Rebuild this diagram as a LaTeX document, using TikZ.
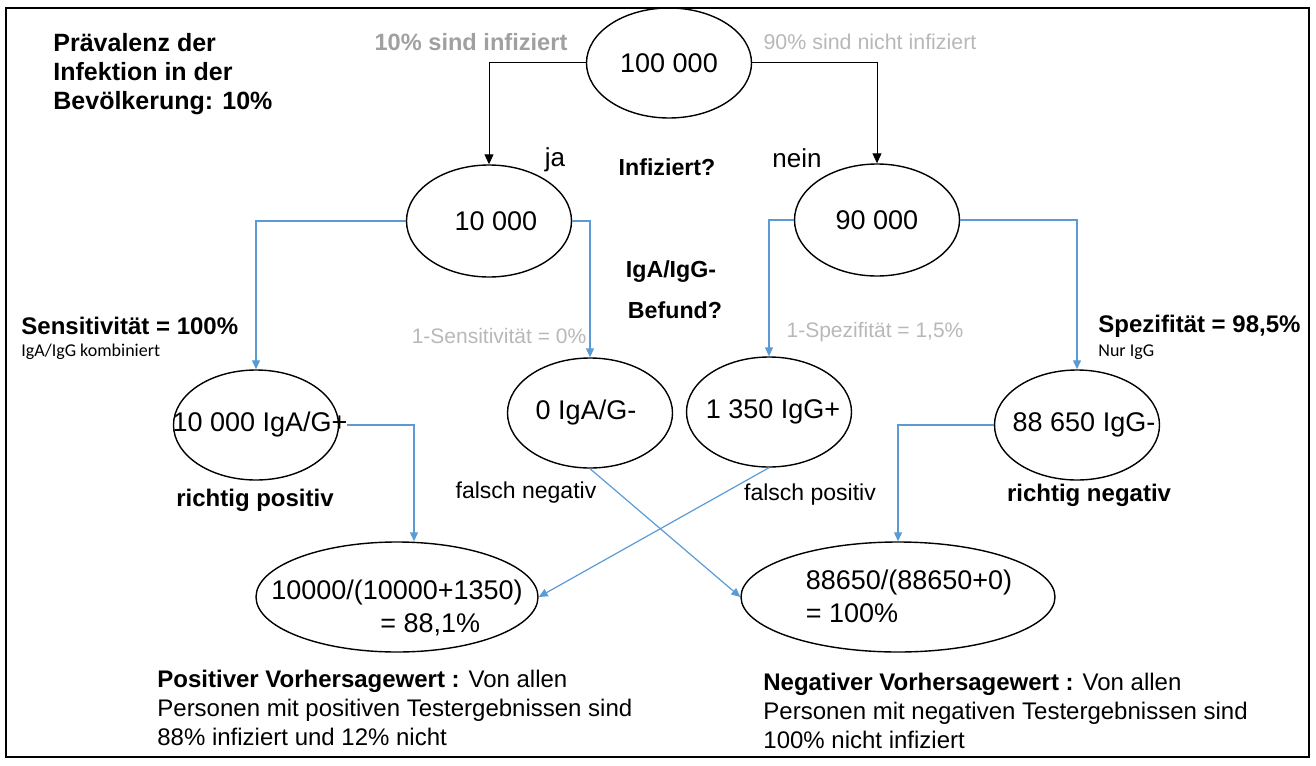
\documentclass[tikz,border=0pt]{standalone}
\usepackage{fontspec}
\setmainfont{Liberation Sans}
\newfontfamily\kleinfont{Carlito}
\usepackage{xcolor}
\usepackage{tikz}
\usetikzlibrary{shapes,arrows.meta,positioning,calc}

\definecolor{blaulinie}{HTML}{5B9BD5}
\definecolor{grau}{HTML}{A0A0A0}
\definecolor{hellgrau}{HTML}{B8B8B8}

\tikzset{
  zahl/.style={draw, ellipse, line width=0.7pt, inner sep=0pt,
    minimum width=82.5pt, minimum height=55pt, font=\fontsize{13.5}{16.5}\selectfont},
  pfeil/.style={line width=0.5pt, -{Triangle[length=5pt,width=4.5pt]}},
  blaupfeil/.style={draw=blaulinie, line width=0.6pt, -{Triangle[length=4.5pt,width=4pt]}},
  fett/.style={font=\bfseries\fontsize{12}{14.5}\selectfont, inner sep=0pt},
  frage/.style={font=\bfseries\fontsize{11.6}{14}\selectfont, inner sep=0pt},
  normal/.style={font=\fontsize{12}{14.5}\selectfont, inner sep=0pt},
  grauklein/.style={text=hellgrau, font=\fontsize{10.5}{12}\selectfont, inner sep=0pt},
  notiz/.style={font=\kleinfont\fontsize{9}{11}\selectfont, inner sep=0pt}
}

\begin{document}
\begin{tikzpicture}[x=0.5pt, y=-0.5pt]
    \useasboundingbox (0,0) rectangle (1316,765);
    % Rahmen
    \draw[line width=1pt] (6,8) rectangle (1309,757);

    % Ellipsen
    \node[zahl] (gesamt) at (669,63) {\makebox[0pt]{100 000}};
    \node[zahl, minimum height=56pt] (ja) at (489,221) {\makebox[0pt]{\hspace*{7pt}10 000}};
    \node[zahl, minimum height=56pt] (nein) at (877,220) {\makebox[0pt]{90 000}};
    \node[zahl] (rp) at (256,425) {\makebox[0pt]{\hspace*{4pt}10 000 IgA/G+}};
    \node[zahl] (fn) at (590,413) {\makebox[0pt]{0 IgA/G-\hspace*{4pt}}};
    \node[zahl] (fp) at (769,412) {\makebox[0pt]{\hspace*{4pt}1 350 IgG+}};
    \node[zahl] (rn) at (1077,425) {\makebox[0pt]{\hspace*{7pt}88 650 IgG-}};
    \node[zahl, minimum width=141pt] (ppv) at (397,597)
        {\makebox[0pt]{\raisebox{-9.9pt}[0pt][0pt]{\begin{tabular}{@{}l@{}}10000/(10000+1350)\\\hspace*{54.5pt}= 88,1\%\end{tabular}}}};
    \node[zahl, minimum width=157pt] (npv) at (898,597)
        {\makebox[0pt]{\hspace*{11pt}\raisebox{-4.9pt}[0pt][0pt]{\begin{tabular}{@{}l@{}}88650/(88650+0)\\= 100\%\end{tabular}}}};

    % Pfeile
    \draw[pfeil] (gesamt.west) -| (ja.north);
    \draw[pfeil] (gesamt.east) -| (nein.north);
    \draw[blaupfeil] (ja.west) -| (rp.north);
    \draw[blaupfeil] (ja.east) -| (fn.north);
    \draw[blaupfeil] (nein.west) -| (fp.north);
    \draw[blaupfeil] (nein.east) -| (rn.north);
    \draw[blaupfeil] ([xshift=4pt]rp.east) -| ([xshift=8.5pt]ppv.north);
    \draw[blaupfeil] (fp.south) -- (ppv.east);
    \draw[blaupfeil] (fn.south) -- (npv.west);
    \draw[blaupfeil] (rn.west) -| (npv.north);

    % Texte oben
    \node[fett, font=\bfseries\fontsize{12.5}{14.5}\selectfont, anchor=north west, align=left] (praevalenz) at (53,33)
        {Prävalenz der\\Infektion in der\\Bevölkerung: 10\%};
    \node[fett, font=\bfseries\fontsize{11.8}{14}\selectfont, text=grau] (infiziert) at (471,42) {10\% sind infiziert};
    \node[grauklein, font=\fontsize{10.7}{12}\selectfont] (nichtinfiziert) at (870,42) {90\% sind nicht infiziert};
    \node[normal, font=\fontsize{13}{15}\selectfont] (jatext) at (555,160) {ja};
    \node[normal, font=\fontsize{13}{15}\selectfont] (neintext) at (797,158) {nein};
    \node[frage] (frage1) at (667,167) {Infiziert?};
    \node[frage] (frage2) at (671,272) {IgA/IgG-};
    \node[frage] (frage3) at (675,310) {Befund?};

    % Sensitivitaet / Spezifitaet
    \node[fett, anchor=west] (sens) at (21,326) {Sensitivität = 100\%};
    \node[notiz, anchor=west] (sensnotiz) at (21,352) {IgA/IgG kombiniert};
    \node[grauklein] (einsminussens) at (499,336) {1-Sensitivität = 0\%};
    \node[grauklein] (einsminusspez) at (875,332) {1-Spezifität = 1,5\%};
    \node[fett, anchor=west] (spez) at (1098,326) {Spezifität = 98,5\%};
    \node[notiz, anchor=west] (speznotiz) at (1098,352) {Nur IgG};

    % Beschriftung der Ergebnisse
    \node[fett] (rptext) at (255,500) {richtig positiv};
    \node[normal, font=\fontsize{11.5}{14}\selectfont] (fntext) at (526,493) {falsch negativ};
    \node[normal, font=\fontsize{11.5}{14}\selectfont] (fptext) at (810,495) {falsch positiv};
    \node[fett] (rntext) at (1089,495) {richtig negativ};

    % Vorhersagewerte
    \node[normal, anchor=north west, align=left] (ppvtext) at (157,670)
        {\textbf{Positiver Vorhersagewert :} Von allen\\Personen mit positiven Testergebnissen sind\\88\% infiziert und 12\% nicht};
    \node[normal, anchor=north west, align=left] (npvtext) at (763,673)
        {\textbf{Negativer Vorhersagewert :} Von allen\\Personen mit negativen Testergebnissen sind\\100\% nicht infiziert};
\end{tikzpicture}
\end{document}
